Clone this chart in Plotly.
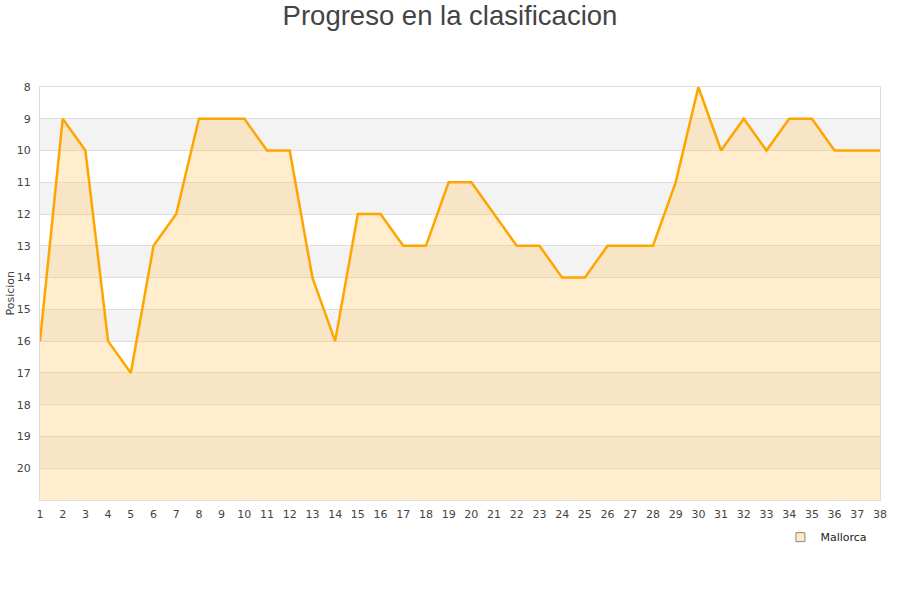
import plotly.graph_objects as go

jornadas = list(range(1, 39))
posiciones = [16, 9, 10, 16, 17, 13, 12, 9, 9, 9, 10, 10, 14, 16, 12, 12, 13, 13, 11, 11,
              12, 13, 13, 14, 14, 13, 13, 13, 11, 8, 10, 9, 10, 9, 9, 10, 10, 10]
y_ticks = list(range(8, 21))
equipo = "Mallorca"
fondo = 21

fig = go.Figure()

# alternating bands
for lo in range(9, 21, 2):
    fig.add_shape(type="rect", xref="paper", yref="y", x0=0, x1=1, y0=lo, y1=lo + 1,
                  fillcolor="#f3f3f3", line_width=0, layer="below")

fig.add_trace(go.Scatter(x=jornadas, y=[fondo] * len(jornadas), mode="lines",
                         line=dict(width=0), showlegend=False, hoverinfo="skip"))
fig.add_trace(go.Scatter(x=jornadas, y=posiciones, mode="lines", fill="tonexty",
                         fillcolor="rgba(255,200,100,0.32)",
                         line=dict(color="#FFA500", width=2.5), showlegend=False, name=equipo))
fig.add_trace(go.Scatter(x=[None], y=[None], mode="markers", name=equipo,
                         marker=dict(symbol="square", size=9, color="#fde9c4",
                                     line=dict(color="#888", width=1))))

fig.add_annotation(text="Posicion", xref="paper", yref="paper", x=-0.0357, y=0.5,
                   textangle=-90, showarrow=False, xanchor="center", yanchor="middle",
                   font=dict(size=11, color="#444"))

fig.update_layout(
    width=900, height=600,
    margin=dict(l=40, r=20, t=87, b=100, autoexpand=False),
    plot_bgcolor="white", paper_bgcolor="white",
    font=dict(family="DejaVu Sans", size=11, color="#444"),
    title=dict(text="Progreso en la clasificacion", x=0.5, xanchor="center", y=0.975, yanchor="middle",
               font=dict(family="Liberation Sans", size=27.5, color="#444")),
    showlegend=True,
    legend=dict(x=0.991, xanchor="right", y=-0.09, yanchor="middle", bgcolor="rgba(0,0,0,0)",
                font=dict(size=11, color="#222"), itemwidth=30),
)
fig.update_xaxes(range=[1, 38], tickmode="array", tickvals=jornadas, showgrid=False,
                 showline=True, linecolor="#ddd", mirror=True, zeroline=False, ticks="",
                 tickfont=dict(size=11), automargin=False, ticklabelstandoff=4)
fig.update_yaxes(range=[fondo, 8], tickmode="array", tickvals=y_ticks, showgrid=True,
                 gridcolor="#dddddd", showline=True, linecolor="#ddd", mirror=True,
                 zeroline=False, ticks="", tickfont=dict(size=11), automargin=False,
                 ticklabelstandoff=6)

fig.write_html("out.html", config={"displayModeBar": False},
               post_script="document.body.style.margin='0';")
